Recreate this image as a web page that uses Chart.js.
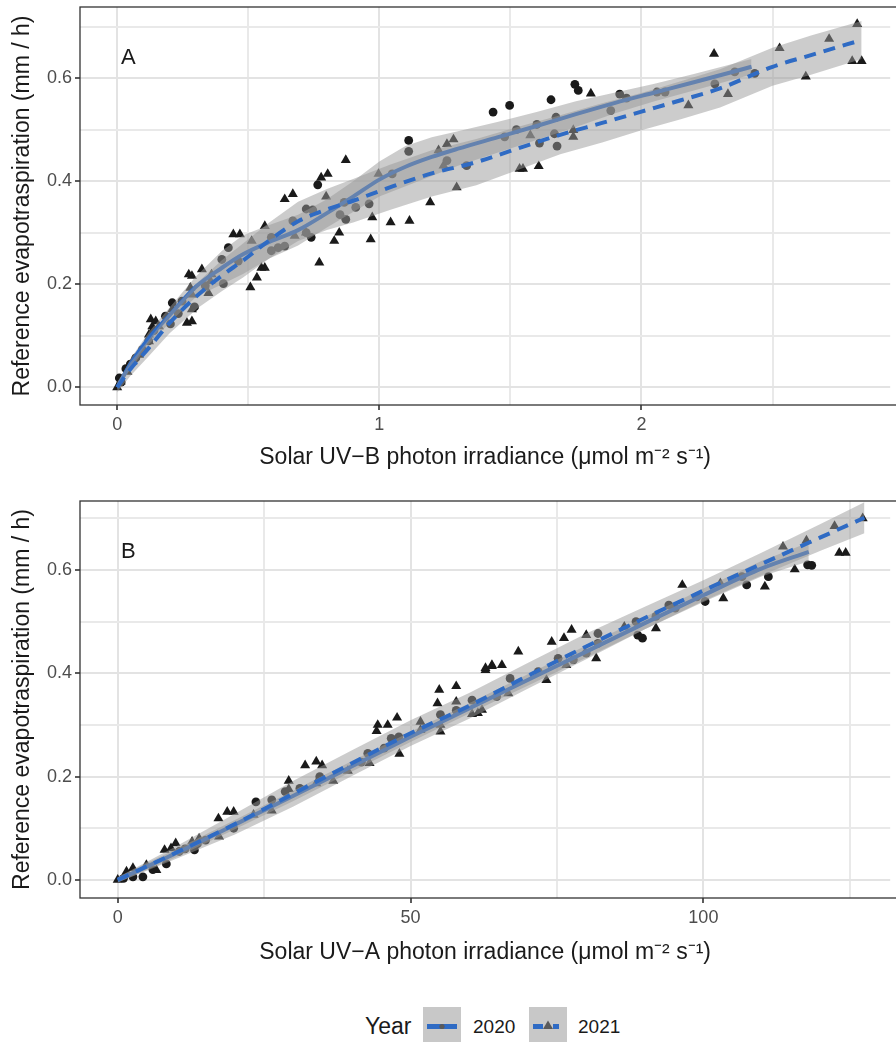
<!DOCTYPE html>
<html>
<head>
<meta charset="utf-8">
<script src="https://cdn.jsdelivr.net/npm/chart.js@4/dist/chart.umd.min.js"></script>
<style>
  body { margin: 0; background: #fff; font-family: "Liberation Sans", Arial, sans-serif; }
  #wrap { position: relative; width: 896px; height: 1042px; overflow: hidden; }
  canvas { position: absolute; left: 0; }
  #chartA { top: 0; }
  #chartB { top: 494px; }
  .legend { position: absolute; top: 1007px; left: 0; width: 896px; height: 35px; }
  .legend span { position: absolute; top: 0; line-height: 39px; color: #1a1a1a; white-space: nowrap; }
  .legend .ttl { font-size: 23px; }
  .legend .lbl { font-size: 19px; }
  .legend svg { position: absolute; top: 0; }
</style>
</head>
<body>
<div id="wrap">
  <canvas id="chartA" width="896" height="480"></canvas>
  <canvas id="chartB" width="896" height="480"></canvas>
  <div class="legend">
    <span class="ttl" style="left:365px">Year</span>
    <svg style="left:423px" width="38" height="35">
      <rect width="38" height="35" fill="#c8c8c8"/>
      <line x1="4" y1="19.5" x2="34" y2="19.5" stroke="#2f6bc4" stroke-width="5"/>
      <circle cx="19" cy="19.5" r="2.6" fill="#5a5a5a"/>
    </svg>
    <span class="lbl" style="left:473px">2020</span>
    <svg style="left:529px" width="38" height="35">
      <rect width="38" height="35" fill="#c8c8c8"/>
      <line x1="4" y1="19.5" x2="34" y2="19.5" stroke="#2f6bc4" stroke-width="5" stroke-dasharray="10 10 6"/>
      <polygon points="19,13.5 24,22 14,22" fill="#5a5a5a"/>
    </svg>
    <span class="lbl" style="left:578px">2021</span>
  </div>
</div>
<script>
// ---- Panel A: UV-B ----
const uvbX2020 = [0.008, 0.015, 0.033, 0.05, 0.071, 0.096, 0.12, 0.14, 0.184, 0.203, 0.210, 0.233, 0.247, 0.295, 0.336, 0.405, 0.399, 0.424, 0.462, 0.588, 0.614, 0.639, 0.588, 0.670, 0.721, 0.746, 0.721, 0.740, 0.765, 0.850, 0.866, 0.872, 0.910, 0.961, 1.049, 1.112, 1.112, 1.258, 1.333, 1.434, 1.497, 1.478, 1.523, 1.601, 1.611, 1.655, 1.668, 1.674, 1.678, 1.746, 1.759, 1.883, 1.917, 1.943, 2.059, 2.090, 2.280, 2.356, 2.432];
const uvbY2020 = [0.018, 0.010, 0.036, 0.045, 0.057, 0.073, 0.090, 0.110, 0.138, 0.123, 0.164, 0.143, 0.167, 0.156, 0.197, 0.201, 0.248, 0.271, 0.245, 0.291, 0.271, 0.274, 0.265, 0.323, 0.346, 0.344, 0.300, 0.291, 0.393, 0.335, 0.359, 0.326, 0.349, 0.356, 0.414, 0.479, 0.458, 0.440, 0.430, 0.534, 0.547, 0.486, 0.500, 0.510, 0.474, 0.558, 0.492, 0.524, 0.468, 0.588, 0.576, 0.537, 0.569, 0.561, 0.573, 0.573, 0.589, 0.612, 0.609];
const uvbX2021 = [0, 0.013, 0.039, 0.058, 0.083, 0.121, 0.121, 0.128, 0.134, 0.147, 0.159, 0.21, 0.266, 0.285, 0.285, 0.273, 0.285, 0.279, 0.285, 0.323, 0.348, 0.356, 0.36, 0.443, 0.468, 0.508, 0.513, 0.533, 0.55, 0.563, 0.563, 0.639, 0.670, 0.677, 0.72, 0.771, 0.778, 0.797, 0.803, 0.828, 0.847, 0.872, 0.967, 0.973, 0.997, 1.043, 1.115, 1.194, 1.226, 1.245, 1.258, 1.283, 1.295, 1.535, 1.548, 1.576, 1.608, 1.740, 1.740, 1.807, 2.179, 2.277, 2.330, 2.527, 2.627, 2.716, 2.823, 2.804, 2.84];
const uvbY2021 = [0, 0.011, 0.030, 0.050, 0.063, 0.089, 0.102, 0.132, 0.118, 0.128, 0.118, 0.151, 0.125, 0.128, 0.151, 0.219, 0.216, 0.193, 0.180, 0.229, 0.183, 0.206, 0.219, 0.297, 0.297, 0.194, 0.284, 0.213, 0.232, 0.232, 0.313, 0.365, 0.375, 0.294, 0.30, 0.242, 0.407, 0.370, 0.414, 0.284, 0.300, 0.441, 0.287, 0.330, 0.414, 0.320, 0.323, 0.359, 0.46, 0.43, 0.472, 0.481, 0.388, 0.424, 0.424, 0.489, 0.429, 0.499, 0.486, 0.570, 0.547, 0.647, 0.569, 0.658, 0.603, 0.676, 0.705, 0.633, 0.633];

const uvbFitX2020 = [0, 0.05, 0.12, 0.2, 0.3, 0.4, 0.48, 0.58, 0.69, 0.8, 0.9, 1.0, 1.1, 1.2, 1.3, 1.45, 1.6, 1.75, 1.9, 2.05, 2.2, 2.42];
const uvbFit2020 = [0, 0.045, 0.095, 0.14, 0.195, 0.232, 0.258, 0.282, 0.305, 0.338, 0.37, 0.403, 0.428, 0.447, 0.463, 0.485, 0.507, 0.53, 0.552, 0.572, 0.592, 0.622];
const uvbLo2020 = [-0.005, 0.035, 0.083, 0.125, 0.175, 0.2, 0.22, 0.25, 0.275, 0.31, 0.34, 0.37, 0.39, 0.41, 0.43, 0.455, 0.48, 0.505, 0.532, 0.555, 0.576, 0.607];
const uvbHi2020 = [0.005, 0.055, 0.107, 0.155, 0.215, 0.265, 0.295, 0.315, 0.335, 0.365, 0.4, 0.438, 0.468, 0.485, 0.497, 0.515, 0.534, 0.555, 0.572, 0.589, 0.608, 0.637];

const uvbFitX2021 = [0, 0.05, 0.12, 0.2, 0.31, 0.4, 0.48, 0.58, 0.69, 0.8, 0.9, 1.04, 1.2, 1.37, 1.52, 1.69, 1.85, 2.0, 2.15, 2.3, 2.5, 2.65, 2.84];
const uvbFit2021 = [0, 0.035, 0.076, 0.125, 0.18, 0.217, 0.246, 0.285, 0.322, 0.345, 0.362, 0.388, 0.415, 0.437, 0.462, 0.49, 0.513, 0.535, 0.557, 0.58, 0.622, 0.645, 0.674];
const uvbLo2021 = [-0.01, 0.022, 0.06, 0.105, 0.155, 0.187, 0.213, 0.25, 0.284, 0.305, 0.32, 0.344, 0.37, 0.392, 0.42, 0.452, 0.475, 0.499, 0.52, 0.543, 0.585, 0.607, 0.637];
const uvbHi2021 = [0.01, 0.048, 0.092, 0.145, 0.205, 0.247, 0.279, 0.32, 0.36, 0.385, 0.404, 0.432, 0.46, 0.482, 0.504, 0.528, 0.551, 0.571, 0.594, 0.617, 0.659, 0.683, 0.711];

// ---- Panel B: UV-A ----
const uvaX2020 = [1, 2.6, 4.3, 6, 8.3, 10.5, 11.5, 13.1, 13.6, 15.0, 19.8, 23.6, 26.3, 28.6, 31.1, 34.5, 41.6, 42.7, 45.5, 46.7, 48, 55.1, 57.8, 60.5, 64.7, 67.0, 71.8, 75.2, 77.8, 80.0, 82.0, 82.0, 88.5, 88.8, 89.6, 91.9, 94.1, 95.2, 98.9, 100.3, 106.6, 107.4, 111.1, 117.8, 118.5];
const uvaY2020 = [0.003, 0.006, 0.006, 0.02, 0.031, 0.055, 0.06, 0.058, 0.07, 0.077, 0.1, 0.151, 0.155, 0.171, 0.177, 0.2, 0.228, 0.245, 0.255, 0.274, 0.277, 0.32, 0.328, 0.348, 0.355, 0.390, 0.403, 0.429, 0.426, 0.439, 0.477, 0.458, 0.50, 0.474, 0.468, 0.510, 0.532, 0.526, 0.548, 0.539, 0.587, 0.571, 0.587, 0.610, 0.609];
const uvaX2021 = [0, 1.5, 2.6, 4.9, 6.6, 8.0, 9.1, 9.9, 12.7, 13.9, 17.3, 17.2, 18.7, 19.8, 23.2, 26.3, 29.2, 29.2, 32.0, 33.9, 33.9, 34.9, 36.8, 39.3, 43.0, 44.2, 44.4, 46.1, 47.7, 48.1, 51.7, 51.7, 54.6, 54.9, 55.1, 55.1, 57.8, 57.8, 60.5, 61.5, 62.2, 62.8, 62.8, 63.9, 63.9, 65.6, 66.7, 68.4, 73.2, 74.1, 76.2, 76.6, 77.5, 80.0, 81.7, 86.5, 91.9, 96.4, 102.9, 103.4, 110.5, 113.6, 115.6, 117.6, 122.4, 123.2, 124.3, 127.2];
const uvaY2021 = [0, 0.016, 0.023, 0.029, 0.019, 0.058, 0.061, 0.071, 0.074, 0.080, 0.084, 0.119, 0.132, 0.132, 0.126, 0.134, 0.192, 0.176, 0.222, 0.229, 0.187, 0.222, 0.192, 0.211, 0.226, 0.288, 0.30, 0.30, 0.314, 0.244, 0.306, 0.29, 0.342, 0.368, 0.287, 0.30, 0.375, 0.345, 0.321, 0.323, 0.329, 0.410, 0.406, 0.414, 0.416, 0.416, 0.361, 0.442, 0.387, 0.461, 0.468, 0.416, 0.484, 0.474, 0.429, 0.490, 0.487, 0.571, 0.574, 0.545, 0.568, 0.645, 0.601, 0.657, 0.685, 0.633, 0.633, 0.700];

const uvaFitX2020 = [0, 10, 20, 30, 40, 50, 60, 70, 80, 90, 100, 110, 118];
const uvaFit2020 = [0, 0.052, 0.107, 0.163, 0.22, 0.277, 0.332, 0.387, 0.442, 0.497, 0.551, 0.603, 0.635];
const uvaLo2020 = [-0.005, 0.044, 0.098, 0.153, 0.21, 0.267, 0.322, 0.376, 0.43, 0.485, 0.538, 0.588, 0.617];
const uvaHi2020 = [0.005, 0.060, 0.116, 0.173, 0.23, 0.287, 0.342, 0.398, 0.454, 0.509, 0.564, 0.618, 0.653];

const uvaFitX2021 = [0, 10, 20, 30, 40, 50, 60, 70, 80, 90, 100, 110, 120, 127.5];
const uvaFit2021 = [0, 0.053, 0.108, 0.167, 0.226, 0.284, 0.337, 0.395, 0.452, 0.507, 0.56, 0.612, 0.663, 0.701];
const uvaLo2021 = [-0.005, 0.041, 0.088, 0.142, 0.201, 0.259, 0.312, 0.37, 0.427, 0.485, 0.54, 0.59, 0.637, 0.671];
const uvaHi2021 = [0.005, 0.065, 0.128, 0.192, 0.251, 0.309, 0.362, 0.42, 0.477, 0.529, 0.58, 0.634, 0.689, 0.731];

// axis ticks
const yMajor = [0, 0.2, 0.4, 0.6];
const yMinor = [0.1, 0.3, 0.5, 0.7];
const uvbMajor = [0, 1, 2];
const uvbMinor = [0.5, 1.5, 2.5];
const uvaMajor = [0, 50, 100];
const uvaMinor = [25, 75, 125];

const pointColor = '#1a1a1a';
const lineColor = '#2f6bc4';
const ribbonColor = 'rgba(153,153,153,0.5)';
const fontFamily = '"Liberation Sans", Arial, sans-serif';

function zip(xs, ys) {
    return xs.map((x, i) => ({x: x, y: ys[i]}));
}

// panel border (right side runs off the page) and panel letter
const panelFrame = {
    id: 'panelFrame',
    afterDraw(chart, args, opts) {
        const {ctx, chartArea: a} = chart;
        ctx.save();
        ctx.strokeStyle = '#333';
        ctx.lineWidth = 1.3;
        ctx.strokeRect(a.left, a.top, a.right - a.left + 20, a.bottom - a.top);
        ctx.fillStyle = '#1a1a1a';
        ctx.font = '22px ' + fontFamily;
        ctx.fillText(opts.letter, a.left + 41, a.top + 56.5);
        ctx.restore();
    }
};

function tickAxis(major, minor, fmt, extra) {
    const all = major.concat(minor).sort((a, b) => a - b);
    return Object.assign({
        type: 'linear',
        afterBuildTicks: scale => { scale.ticks = all.map(v => ({value: v})); },
        border: {display: false},
        grid: {
            color: ctx => major.includes(ctx.tick.value) ? '#e3e3e3' : '#e9e9e9',
            lineWidth: 2,
            tickColor: ctx => major.includes(ctx.tick.value) ? '#333' : 'rgba(0,0,0,0)',
            tickLength: 5,
            tickWidth: 1.6
        },
        ticks: {
            autoSkip: false,
            maxRotation: 0,
            color: '#4d4d4d',
            font: {family: fontFamily, size: 18},
            callback: v => major.includes(v) ? fmt(v) : ''
        }
    }, extra);
}

function makePanel(id, letter, d, xRange, xMajor, xMinor, yRange, xTitle, xHeight, titlePad) {
    const datasets = [
        {type: 'scatter', data: zip(d.px20, d.py20), pointStyle: 'circle', pointRadius: 4.4,
         backgroundColor: pointColor, borderWidth: 0, order: 9},
        {type: 'scatter', data: zip(d.px21, d.py21), pointStyle: 'triangle', pointRadius: 5.8,
         backgroundColor: pointColor, borderWidth: 0, order: 9},
        {type: 'line', data: zip(d.fx20, d.lo20), borderWidth: 0, pointRadius: 0, fill: false, order: 8},
        {type: 'line', data: zip(d.fx20, d.hi20), borderWidth: 0, pointRadius: 0,
         fill: '-1', backgroundColor: ribbonColor, order: 8},
        {type: 'line', data: zip(d.fx20, d.fit20), borderColor: lineColor, borderWidth: 4,
         pointRadius: 0, fill: false, cubicInterpolationMode: 'monotone', order: 7},
        {type: 'line', data: zip(d.fx21, d.lo21), borderWidth: 0, pointRadius: 0, fill: false, order: 6},
        {type: 'line', data: zip(d.fx21, d.hi21), borderWidth: 0, pointRadius: 0,
         fill: '-1', backgroundColor: ribbonColor, order: 6},
        {type: 'line', data: zip(d.fx21, d.fit21), borderColor: lineColor, borderWidth: 4,
         borderDash: [12, 8], pointRadius: 0, fill: false, cubicInterpolationMode: 'monotone', order: 5}
    ];

    return new Chart(document.getElementById(id), {
        type: 'line',
        data: {datasets: datasets},
        options: {
            responsive: false,
            animation: false,
            layout: {padding: {top: 7, right: 0, left: 0, bottom: 0}},
            plugins: {
                legend: {display: false},
                tooltip: {enabled: false},
                panelFrame: {letter: letter}
            },
            scales: {
                x: tickAxis(xMajor, xMinor, v => String(v), {
                    min: xRange[0], max: xRange[1],
                    ticks: {
                        autoSkip: false, maxRotation: 0, padding: 4, color: '#4d4d4d',
                        font: {family: fontFamily, size: 18},
                        callback: v => xMajor.includes(v) ? String(v) : ''
                    },
                    title: {display: true, text: xTitle, color: '#1a1a1a',
                            font: {family: fontFamily, size: 23}, padding: {top: 0, bottom: titlePad}},
                    afterFit: scale => {
                        scale.height = xHeight;
                        scale.paddingLeft = 0;
                        scale.paddingRight = 0;
                    }
                }),
                y: tickAxis(yMajor, yMinor, v => v.toFixed(1), {
                    min: yRange[0], max: yRange[1],
                    title: {display: true, text: 'Reference evapotraspiration (mm / h)', color: '#1a1a1a',
                            font: {family: fontFamily, size: 23}, padding: {top: 9, bottom: 0}},
                    afterFit: scale => {
                        scale.width = 80;
                        scale.paddingTop = 0;
                        scale.paddingBottom = 0;
                    }
                })
            }
        },
        plugins: [panelFrame]
    });
}

document.addEventListener('DOMContentLoaded', () => {
    makePanel('chartA', 'A', {
        px20: uvbX2020, py20: uvbY2020, px21: uvbX2021, py21: uvbY2021,
        fx20: uvbFitX2020, fit20: uvbFit2020, lo20: uvbLo2020, hi20: uvbHi2020,
        fx21: uvbFitX2021, fit21: uvbFit2021, lo21: uvbLo2021, hi21: uvbHi2021
    }, [-0.142, 2.949], uvbMajor, uvbMinor, [-0.0344, 0.738],
       'Solar UV\u2212B photon irradiance (\u03bcmol m\u207b\u00b2 s\u207b\u00b9)', 75, 9);

    makePanel('chartB', 'B', {
        px20: uvaX2020, py20: uvaY2020, px21: uvaX2021, py21: uvaY2021,
        fx20: uvaFitX2020, fit20: uvaFit2020, lo20: uvaLo2020, hi20: uvaHi2020,
        fx21: uvaFitX2021, fit21: uvaFit2021, lo21: uvaLo2021, hi21: uvaHi2021
    }, [-6.44, 131.9], uvaMajor, uvaMinor, [-0.035, 0.7335],
       'Solar UV\u2212A photon irradiance (\u03bcmol m\u207b\u00b2 s\u207b\u00b9)', 76, 8);
});
</script>
</body>
</html>
